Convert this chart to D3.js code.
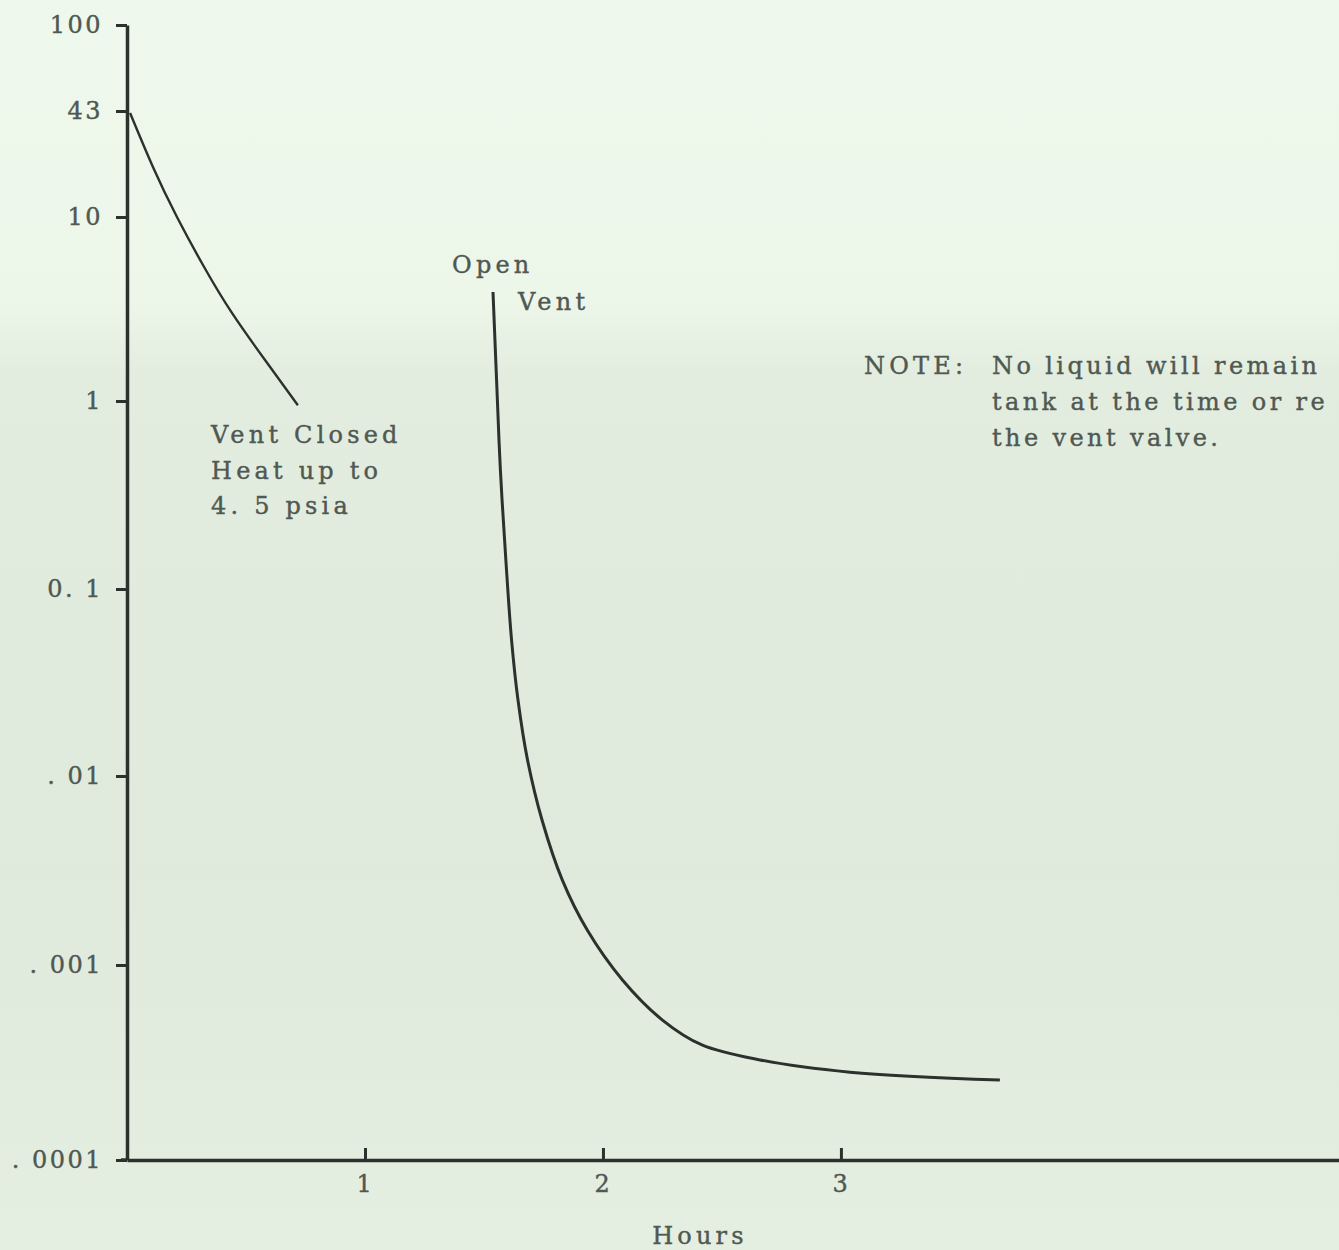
<!DOCTYPE html>
<html>
<head>
<meta charset="utf-8">
<script src="https://cdn.jsdelivr.net/npm/d3@7"></script>
<style>
  body { margin: 0; background: #e6f1e3; }
  svg { display: block; }
</style>
</head>
<body>
<div id="chart"></div>
<script>
//---------------- data

// y axis (log, hand drawn so the decades are not quite even)
const yTickValues = [100, 43, 10, 1, 0.1, 0.01, 0.001, 0.0001]
const yTickLabels = ["100", "43", "10", "1", "0. 1", ". 01", ". 001", ". 0001"]
const hourTicks = [1, 2, 3]

// vent closed, heating up
const closedHours    = [0.013, 0.109, 0.210, 0.324, 0.441, 0.580, 0.718]
const closedPressure = [41.8, 19.9, 10, 5.35, 3.01, 1.67, 0.95]

// vent opened
const openHours    = [1.538, 1.553, 1.569, 1.592, 1.616, 1.643, 1.683, 1.744, 1.829, 1.934, 2.082, 2.250, 2.416, 2.660, 3.038, 3.668]
const openPressure = [3.91, 1.30, 0.430, 0.143, 0.0533, 0.0255, 0.0122, 0.00585, 0.00282, 0.00153, 0.000838, 0.000522, 0.000389, 0.000326, 0.000282, 0.000257]

const noteLines = ["No liquid will remain", "tank at the time or re", "the vent valve."]

//---------------- dimensions
const dims = {
    width: 1339,
    height: 1250,
    originX: 127,
    originY: 1160
}

const ink = "#2b322e"
const textInk = "#505852"
const font = "'DejaVu Serif', serif"

const svg = d3.select("#chart")
    .append("svg")
    .attr("width", dims.width)
    .attr("height", dims.height)

// paper background
const grad = svg.append("defs").append("linearGradient")
    .attr("id", "paper")
    .attr("x1", 0).attr("y1", 0).attr("x2", 0).attr("y2", 1)
grad.selectAll("stop")
    .data([["0%", "#eef8ec"], ["24%", "#ecf6e9"], ["30%", "#e2eddf"], ["70%", "#dfeadc"], ["100%", "#e4efe1"]])
    .join("stop")
    .attr("offset", d => d[0])
    .attr("stop-color", d => d[1])

svg.append("rect")
    .attr("width", dims.width)
    .attr("height", dims.height)
    .attr("fill", "url(#paper)")

//---------------- scales
const xScale = d3.scaleLinear()
    .domain([0, 5.093])
    .range([dims.originX, dims.width])

// polylinear log scale to follow the drawn tick spacing
const yScale = d3.scaleLog()
    .domain([0.0001, 0.001, 0.01, 0.1, 1, 10, 43, 100])
    .range([dims.originY, 965, 776, 589, 401, 217, 111, 25])

//---------------- axes
const yAxis = d3.axisLeft(yScale)
    .tickValues(yTickValues)
    .tickFormat((d, i) => yTickLabels[i])
    .tickSize(11)
    .tickSizeOuter(0)
    .tickPadding(13)

const xAxis = d3.axisBottom(xScale)
    .tickValues(hourTicks)
    .tickFormat(d3.format("d"))
    .tickSize(-12)
    .tickSizeOuter(0)
    .tickPadding(15)

const yAxisGroup = svg.append("g")
    .attr("transform", `translate(${dims.originX},0)`)
    .call(yAxis)

const xAxisGroup = svg.append("g")
    .attr("transform", `translate(0,${dims.originY})`)
    .call(xAxis)

for (const g of [yAxisGroup, xAxisGroup]) {
    g.select(".domain").attr("stroke", ink).attr("stroke-width", 3.5)
    g.selectAll(".tick line").attr("stroke", ink).attr("stroke-width", 3)
    g.selectAll(".tick text")
        .attr("fill", textInk)
        .attr("stroke", textInk)
        .attr("stroke-width", 0.4)
        .style("font-family", font)
        .style("font-size", "24px")
        .style("letter-spacing", "2.5px")
}
// small overshoot of the x axis past the y axis
svg.append("line")
    .attr("x1", dims.originX - 6).attr("x2", dims.originX)
    .attr("y1", dims.originY).attr("y2", dims.originY)
    .attr("stroke", ink).attr("stroke-width", 3.5)

//---------------- curves
const closedLine = d3.line()
    .x(d => xScale(d[0]))
    .y(d => yScale(d[1]))
    .curve(d3.curveNatural)

const openLine = d3.line()
    .x(d => xScale(d[0]))
    .y(d => yScale(d[1]))
    .curve(d3.curveCatmullRom.alpha(0.5))

const closedData = d3.zip(closedHours, closedPressure)
const openData = d3.zip(openHours, openPressure)

svg.append("path")
    .datum(closedData)
    .attr("d", closedLine)
    .attr("fill", "none")
    .attr("stroke", ink)
    .attr("stroke-width", 2.4)

svg.append("path")
    .datum(openData)
    .attr("d", openLine)
    .attr("fill", "none")
    .attr("stroke", ink)
    .attr("stroke-width", 3)

//---------------- annotations
const annoGroup = svg.append("g")
    .attr("fill", textInk)
    .attr("stroke", textInk)
    .attr("stroke-width", 0.4)
    .style("font-family", font)
    .style("font-size", "24px")
    .style("letter-spacing", "4.2px")

const addText = (str, x, y, anchor = "start") => annoGroup.append("text")
    .attr("x", x).attr("y", y)
    .attr("text-anchor", anchor)
    .text(str)

addText("Open", 452, 273)
addText("Vent", 518, 310)

addText("Vent Closed", 211, 443)
addText("Heat up to", 211, 479)
addText("4. 5 psia", 211, 514)

addText("NOTE:", 864, 374)
noteLines.forEach((t, i) => addText(t, 992, 374 + i * 36)
    .style("letter-spacing", "3.4px"))

addText("Hours", 700, 1244, "middle")
</script>
</body>
</html>
